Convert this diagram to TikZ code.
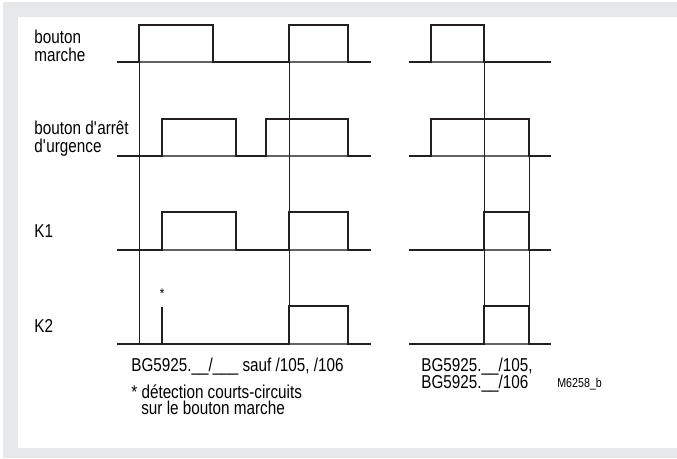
\documentclass[tikz,border=0pt]{standalone}
\usepackage{fontspec}
\setmainfont{Liberation Sans}[FakeStretch=0.82]
\definecolor{framegray}{HTML}{E6E7E8}
\definecolor{inkdark}{HTML}{231F20}
\tikzset{
  sig/.style={line width=1.2pt, color=inkdark, line join=miter},
  thin/.style={line width=0.45pt, color=inkdark},
  base/.style={line width=0.6pt, color=inkdark!70},
  lbl/.style={anchor=base west, inner sep=0pt, font=\fontsize{10.6}{11}\selectfont},
  tag/.style={anchor=base west, inner sep=0pt, font=\fontsize{7.4}{8}\selectfont}
}
\begin{document}
\begin{tikzpicture}[x=0.02cm, y=-0.02cm]
\useasboundingbox (0,0) rectangle (677,458);
% frame
\fill[framegray] (3,2) rectangle (677,458);
\fill[white] (18,17) rectangle (677,448);
% labels
\node[lbl] (bm1) at (34,43) {bouton};
\node[lbl] (bm2) at (34,61) {marche};
\node[lbl] (ba1) at (34,134) {bouton d\textquotesingle arrêt};
\node[lbl] (ba2) at (34,152) {d\textquotesingle urgence};
\node[lbl] (k1) at (34,237) {K1};
\node[lbl] (k2) at (34,332) {K2};
% thin baselines
\draw[base] (117,62) -- (371,62);
\draw[base] (409,62) -- (551,62);
\draw[base] (117,156) -- (371,156);
\draw[base] (409,156) -- (551,156);
\draw[base] (117,250) -- (371,250);
\draw[base] (409,250) -- (551,250);
\draw[base] (117,344) -- (371,344);
\draw[base] (409,344) -- (551,344);
% thin verticals
\draw[thin] (139,62) -- (139,344);
\draw[thin] (289,25) -- (289,344);
\draw[thin] (484,62) -- (484,344);
\draw[thin] (529,156) -- (529,344);
% bouton marche
\draw[sig] (117,62) -- (139,62) |- (213,25) |- (289,62) |- (348,25) |- (371,62);
\draw[sig] (409,62) -- (431,62) |- (484,25) |- (551,62);
% bouton d'arret d'urgence
\draw[sig] (117,156) -- (162,156) |- (236,119) |- (266,156) |- (348,119) |- (371,156);
\draw[sig] (409,156) -- (431,156) |- (529,119) |- (551,156);
% K1
\draw[sig] (117,250) -- (162,250) |- (236,212) |- (289,250) |- (348,212) |- (371,250);
\draw[sig] (409,250) -- (484,250) |- (529,212) |- (551,250);
% K2
\draw[sig] (117,344) -- (289,344) |- (348,306) |- (371,344);
\draw[sig] (162,344) -- (162,307);
\node[inner sep=0pt, font=\fontsize{8}{8}\selectfont] (star) at (162,294) {*};
\draw[sig] (409,344) -- (484,344) |- (529,306) |- (551,344);
% notes
\node[lbl] (var1) at (131,371) {BG5925.\_\_/\_\_\_ sauf /105, /106};
\node[lbl] (note1) at (131,398) {* détection courts-circuits};
\node[lbl] (note2) at (141,414) {sur le bouton marche};
\node[lbl] (var2) at (421,371) {BG5925.\_\_/105,};
\node[lbl] (var3) at (421,388) {BG5925.\_\_/106};
\node[tag] (ref) at (557,387) {M6258\_b};
\end{tikzpicture}
\end{document}
